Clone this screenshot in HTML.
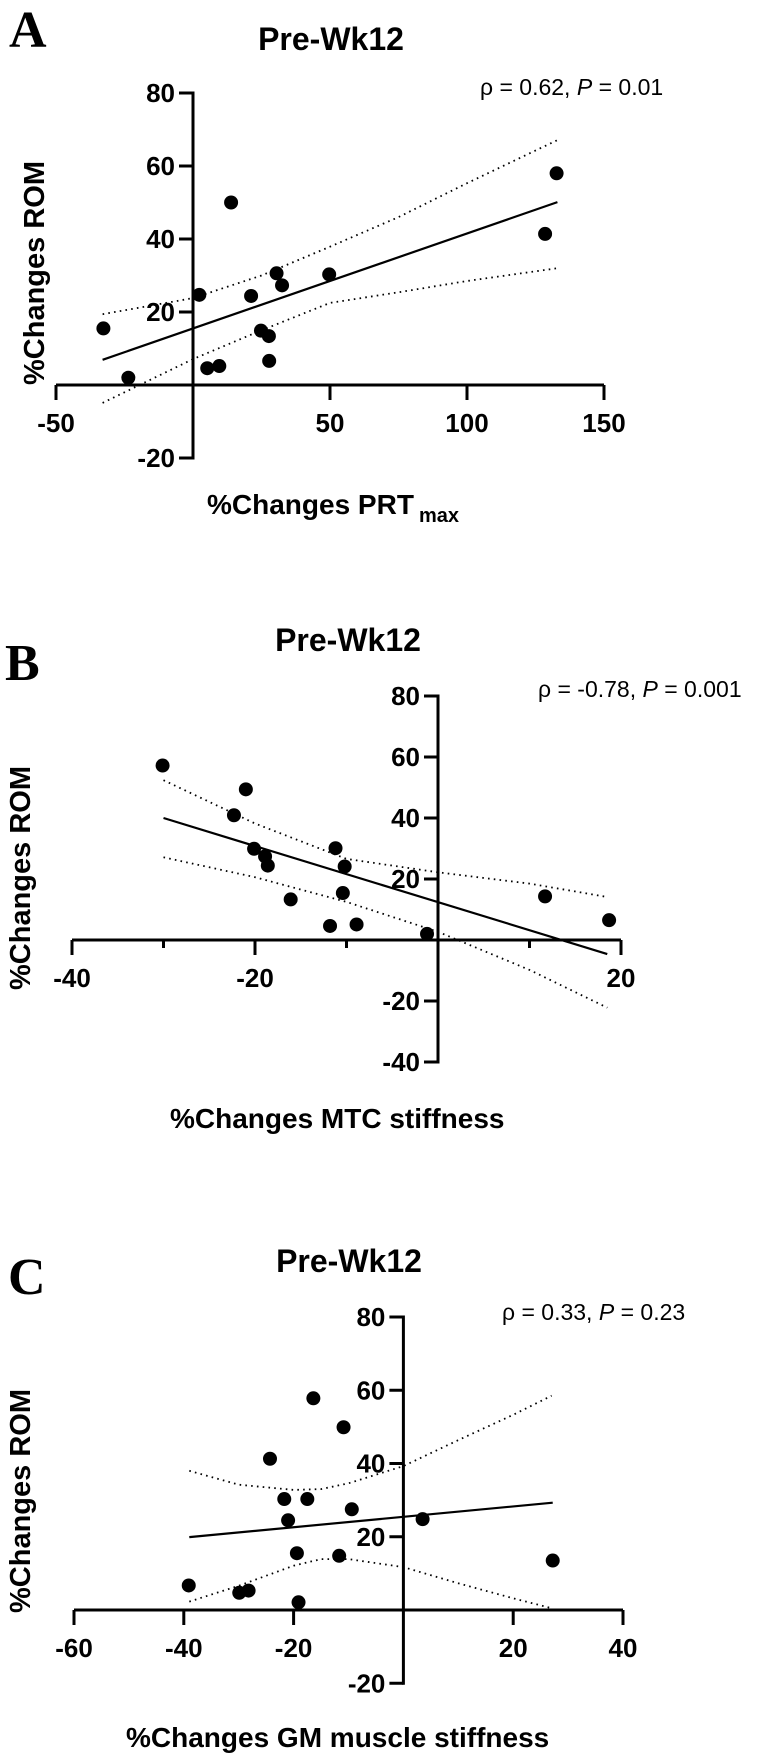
<!DOCTYPE html>
<html><head><meta charset="utf-8"><style>
html,body{margin:0;padding:0;background:#fff;}
svg{display:block;}
text{font-family:"Liberation Sans",Arial,sans-serif;fill:#000;}
</style></head><body>
<svg id="fig" width="768" height="1756" viewBox="0 0 768 1756" xmlns="http://www.w3.org/2000/svg">
<rect width="768" height="1756" fill="#fff"/>
</svg>
<script>
// Panel A data
const aX = [-32.7,-23.6,2.3,5.2,9.6,13.9,21.2,24.8,27.7,27.8,30.5,32.5,49.7,128.5,132.7];
const aY = [15.5,2,24.7,4.6,5.2,50,24.4,14.9,13.4,6.6,30.6,27.3,30.3,41.4,58];
const aFitX = [-33,133];
const aFitY = [6.9,50.1];
const aCiX = [-33,0,25,50,75,100,133];
const aCiUp = [19.4,23.8,30,37.9,46,55.3,67.1];
const aCiLo = [-4.9,7.1,15,22.5,25.4,28.5,32];
const aXTicks = [-50,0,50,100,150];
const aXLabels = ["-50","","50","100","150"];
const aYTicks = [80,60,40,20,-20];
const aYLabels = ["80","60","40","20","-20"];
// Panel B data
const bX = [-30.1,-21,-22.3,-20.1,-18.9,-18.6,-16.1,-11.2,-10.2,-10.4,-11.8,-8.9,-1.2,11.7,18.7];
const bY = [57.2,49.4,40.9,29.9,27.4,24.4,13.3,30.1,24.1,15.4,4.6,5.1,2,14.3,6.5];
const bFitX = [-30,18.5];
const bFitY = [40,-4.6];
const bCiX = [-30,-20,-10,0,10,18.5];
const bCiUp = [52.4,38.2,26.6,22.2,18.5,14.1];
const bCiLo = [27.1,20.6,12.5,2.7,-9.8,-22.2];
const bXTicks = [-40,-30,-20,-10,10,20];
const bXLabels = ["-40","","-20","","","20"];
const bYTicks = [80,60,40,20,-20,-40];
const bYLabels = ["80","60","40","20","-20","-40"];
// Panel C data
const cX = [-16.4,-10.9,-24.3,-21.7,-17.5,-9.4,-21,-19.4,-11.7,-39.1,-29.9,-28.2,-19.1,3.5,27.2];
const cY = [57.8,49.9,41.3,30.3,30.3,27.5,24.5,15.5,14.8,6.7,4.7,5.3,2.1,24.8,13.5];
const cFitX = [-39,27.2];
const cFitY = [19.9,29.3];
const cCiX = [-39,-30,-20,-15,-10,0,10,20,27];
const cCiUp = [38,34.2,32.8,33,34.6,39.3,46.4,53.3,58.5];
const cCiLo = [2.3,6.6,12.1,13.9,13.9,11.7,7.3,3.2,0.5];
const cXTicks = [-60,-40,-20,20,40];
const cXLabels = ["-60","-40","-20","20","40"];
const cYTicks = [80,60,40,20,-20];
const cYLabels = ["80","60","40","20","-20"];

const NS = "http://www.w3.org/2000/svg";
const svg = document.getElementById('fig');
function mk(tag, attrs, parent){
  const e = document.createElementNS(NS, tag);
  for (const k in attrs) e.setAttribute(k, attrs[k]);
  (parent||svg).appendChild(e);
  return e;
}
function txt(parent, s, attrs){
  const t = mk('text', attrs, parent);
  t.textContent = s;
  return t;
}

function panel(p){
  const g = mk('g', {});
  
  
  const sx = v => p.x0 + (v - p.xmin) * (p.x1 - p.x0) / (p.xmax - p.xmin);
  const sy = v => p.y0 + (v - p.ymin) * (p.y1 - p.y0) / (p.ymax - p.ymin);
  const ax = sx(0), ay = sy(0);
  const L = txt(g, p.letter, {x:p.letterX, y:p.letterY, 'font-size':52, 'font-weight':'bold', style:'font-family:"Liberation Serif",serif'});
  
  
  const T = txt(g, 'Pre-Wk12', {x:p.titleX, y:p.titleY, 'font-size':32, 'font-weight':'bold', 'text-anchor':'middle'});
  
  
  const S = txt(g, '', {x:p.statX, y:p.statY, 'font-size':23});
  
  
  S.innerHTML = 'ρ = ' + p.rho + ', <tspan font-style="italic">P</tspan> = ' + p.pval;
  const xa = mk('line', {x1:sx(p.xmin), x2:sx(p.xmax), y1:ay, y2:ay, stroke:'#000', 'stroke-width':3}, g);
  
  
  const ya = mk('line', {x1:ax, x2:ax, y1:sy(p.ymax)-1.5, y2:sy(p.yminAxis)+1.5, stroke:'#000', 'stroke-width':3}, g);
  
  
  p.xTicks.forEach((v,i) => {
    const major = p.xLabels[i] !== '' || p.allMajor;
    const tk = mk('line', {x1:sx(v), x2:sx(v), y1:ay, y2:ay + (major?15:8), stroke:'#000', 'stroke-width':3}, g);
    
    
    if (p.xLabels[i]) {
      const lb = txt(g, p.xLabels[i], {x:sx(v), y:ay+47, 'font-size':26, 'font-weight':'bold', 'text-anchor':'middle'});
      
      
    }
  });
  p.yTicks.forEach((v,i) => {
    const tk = mk('line', {x1:ax-14, x2:ax, y1:sy(v), y2:sy(v), stroke:'#000', 'stroke-width':3}, g);
    
    
    const lb = txt(g, p.yLabels[i], {x:ax-18, y:sy(v)+9, 'font-size':26, 'font-weight':'bold', 'text-anchor':'end'});
    
    
  });
  const yt = txt(g, '%Changes ROM', {x:0, y:0, 'font-size':29, 'font-weight':'bold', 'text-anchor':'middle', transform:'translate(' + p.ytX + ',' + p.ytY + ') rotate(-90)'});
  
  
  const xt = txt(g, '', {x:p.xtX, y:p.xtY, 'font-size':28, 'font-weight':'bold'});
  
  
  xt.innerHTML = p.xTitle;
  const up = p.ciX.map((v,i) => sx(v).toFixed(1) + ',' + sy(p.ciUp[i]).toFixed(1)).join(' ');
  const lo = p.ciX.map((v,i) => sx(v).toFixed(1) + ',' + sy(p.ciLo[i]).toFixed(1)).join(' ');
  const cu = mk('polyline', {points:up, fill:'none', stroke:'#000', 'stroke-width':1.8, 'stroke-dasharray':'1.6 4.2'}, g);
  
  
  const cl = mk('polyline', {points:lo, fill:'none', stroke:'#000', 'stroke-width':1.8, 'stroke-dasharray':'1.6 4.2'}, g);
  
  
  const rl = mk('line', {x1:sx(p.fitX[0]), y1:sy(p.fitY[0]), x2:sx(p.fitX[1]), y2:sy(p.fitY[1]), stroke:'#000', 'stroke-width':2.2}, g);
  
  
  p.px.forEach((v,i) => {
    const c = mk('circle', {cx:sx(v), cy:sy(p.py[i]), r:7, fill:'#000'}, g);
    
    
  });
}

panel({id:'a', letter:'A', letterX:9, letterY:47, titleX:331, titleY:50,
  statX:480, statY:95, rho:'0.62', pval:'0.01',
  xmin:-50, xmax:150, x0:56, x1:604, ymin:0, ymax:80, y0:385, y1:93, yminAxis:-20,
  xTicks:aXTicks, xLabels:aXLabels, yTicks:aYTicks, yLabels:aYLabels, allMajor:true,
  ytX:44, ytY:273, xtX:207, xtY:514,
  xTitle:'%Changes PRT<tspan font-size="20" dx="5" dy="8">max</tspan>',
  px:aX, py:aY, fitX:aFitX, fitY:aFitY, ciX:aCiX, ciUp:aCiUp, ciLo:aCiLo});

panel({id:'b', letter:'B', letterX:5, letterY:680, titleX:348, titleY:651,
  statX:538, statY:697, rho:'-0.78', pval:'0.001',
  xmin:-40, xmax:20, x0:72, x1:621, ymin:0, ymax:80, y0:940, y1:696, yminAxis:-40,
  xTicks:bXTicks, xLabels:bXLabels, yTicks:bYTicks, yLabels:bYLabels, allMajor:false,
  ytX:30, ytY:878, xtX:170, xtY:1128,
  xTitle:'%Changes MTC stiffness',
  px:bX, py:bY, fitX:bFitX, fitY:bFitY, ciX:bCiX, ciUp:bCiUp, ciLo:bCiLo});

panel({id:'c', letter:'C', letterX:8, letterY:1294, titleX:349, titleY:1272,
  statX:502, statY:1320, rho:'0.33', pval:'0.23',
  xmin:-60, xmax:40, x0:74, x1:623, ymin:0, ymax:80, y0:1610, y1:1317, yminAxis:-20,
  xTicks:cXTicks, xLabels:cXLabels, yTicks:cYTicks, yLabels:cYLabels, allMajor:true,
  ytX:30, ytY:1501, xtX:126, xtY:1747,
  xTitle:'%Changes GM muscle stiffness',
  px:cX, py:cY, fitX:cFitX, fitY:cFitY, ciX:cCiX, ciUp:cCiUp, ciLo:cCiLo});
</script>
</body></html>
